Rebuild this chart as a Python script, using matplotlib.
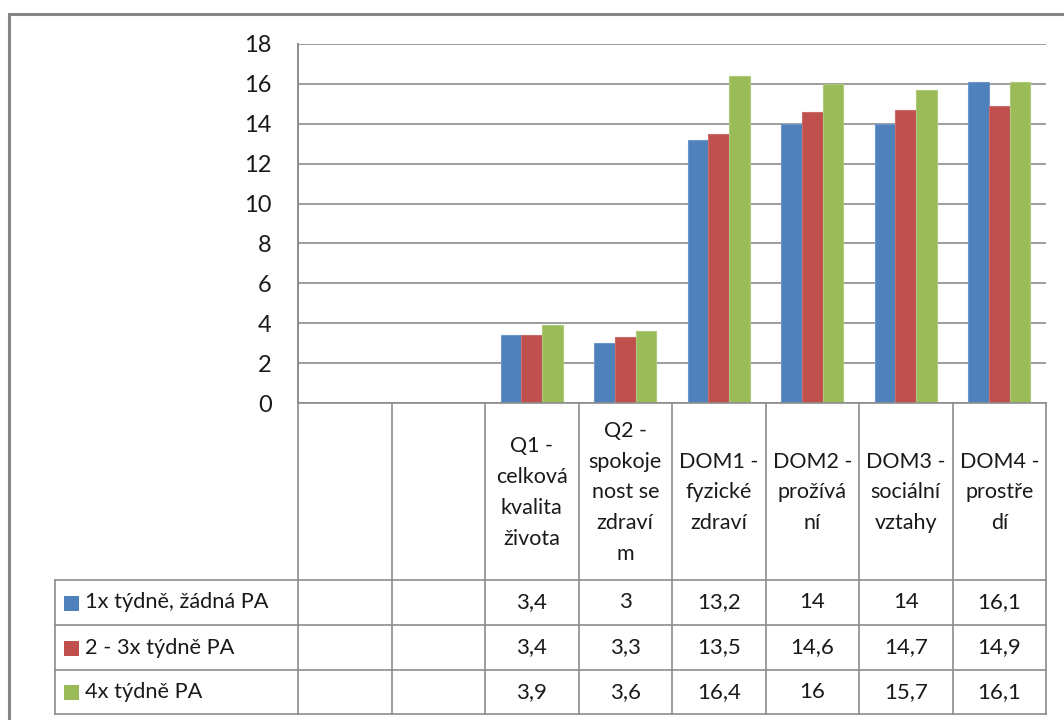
import numpy as np
import matplotlib
matplotlib.use("Agg")
import matplotlib.pyplot as plt
from matplotlib.transforms import Affine2D, blended_transform_factory
from matplotlib.lines import Line2D
from matplotlib.patches import Rectangle

# ---- data ----
categories = ["", "",
              "Q1 -\ncelková\nkvalita\nživota",
              "Q2 -\nspokoje\nnost se\nzdraví\nm",
              "DOM1 -\nfyzické\nzdraví",
              "DOM2 -\nprožívá\nní",
              "DOM3 -\nsociální\nvztahy",
              "DOM4 -\nprostře\ndí"]
series_names = ["1x týdně, žádná PA", "2 - 3x týdně PA", "4x týdně PA"]
s1 = [np.nan, np.nan, 3.4, 3.0, 13.2, 14.0, 14.0, 16.1]
s2 = [np.nan, np.nan, 3.4, 3.3, 13.5, 14.6, 14.7, 14.9]
s3 = [np.nan, np.nan, 3.9, 3.6, 16.4, 16.0, 15.7, 16.1]
y_ticks = [0, 2, 4, 6, 8, 10, 12, 14, 16, 18]

colors = ["#4F81BD", "#C0504D", "#9BBB59"]
edges = ["#6E98CC", "#CC6C69", "#AEC979"]
grid_c = "#8C8C8C"
txt_c = "#1a1a1a"
FONT = "Lato"

W, H = 1064, 720
fig = plt.figure(figsize=(W / 100, H / 100), dpi=100)
fig.patch.set_facecolor("white")

# plot area in pixels
x0, x1 = 298, 1046
y_top, y_base = 44, 403
ax = fig.add_axes([x0 / W, 1 - y_base / H, (x1 - x0) / W, (y_base - y_top) / H])

n = len(categories)
x = np.arange(n)
bw = 1 / 4.5
for k, (vals, c, ec) in enumerate(zip([s1, s2, s3], colors, edges)):
    ax.bar(x + (k - 1) * bw, vals, width=bw, color=c, edgecolor=ec,
           linewidth=0.8, zorder=3)

ax.set_xlim(-0.5, n - 0.5)
ax.set_ylim(0, 18)
ax.set_yticks(y_ticks)
ax.set_yticklabels([str(t) for t in y_ticks], fontfamily=FONT, fontsize=17,
                   color=txt_c)
ax.tick_params(axis="y", length=0, pad=19)
ax.set_xticks([])
for s in ["top", "right", "bottom"]:
    ax.spines[s].set_visible(False)
ax.spines["left"].set_color(grid_c)
ax.spines["left"].set_linewidth(1.2)
ax.yaxis.grid(True, color=grid_c, linewidth=1.2, zorder=0)
ax.set_axisbelow(True)

# pixel transforms (origin top-left)
px = Affine2D().scale(1 / W, -1 / H).translate(0, 1) + fig.transFigure
cat_px = blended_transform_factory(ax.transData, px)


def hline(xa, xb, y, tr):
    fig.add_artist(Line2D([xa, xb], [y, y], transform=tr, color=grid_c,
                          linewidth=1.2, clip_on=False))


def vline(xv, ya, yb, tr):
    fig.add_artist(Line2D([xv, xv], [ya, yb], transform=tr, color=grid_c,
                          linewidth=1.2, clip_on=False))


# data table grid
row_lines = [580, 625, 670, 714]
vline(-0.5, y_top, row_lines[-1], cat_px)
for i in range(1, n + 1):
    vline(i - 0.5, y_base, row_lines[-1], cat_px)
hline(-0.5, n - 0.5, y_base, cat_px)
for y in row_lines:
    hline(55, x0, y, px)
    hline(-0.5, n - 0.5, y, cat_px)
vline(55, row_lines[0], row_lines[-1], px)

# header cells
for i, lab in enumerate(categories):
    if lab:
        fig.text(i, (y_base + row_lines[0]) / 2 + 1, lab, transform=cat_px,
                 ha="center", va="center", fontfamily=FONT, fontsize=15.5,
                 linespacing=1.68, color=txt_c)


def fmt(v):
    s = f"{v:.1f}".replace(".", ",")
    return s[:-2] if s.endswith(",0") else s


# value rows with legend keys
for r, (name, vals, c) in enumerate(zip(series_names, [s1, s2, s3], colors)):
    yc = (row_lines[r] + row_lines[r + 1]) / 2
    fig.add_artist(Rectangle((64, yc - 7), 15, 15, transform=px,
                             facecolor=c, edgecolor="none"))
    fig.text(85, yc, name, transform=px, ha="left", va="center",
             fontfamily=FONT, fontsize=15.7, color=txt_c)
    for i, v in enumerate(vals):
        if not np.isnan(v):
            fig.text(i, yc, fmt(v), transform=cat_px, ha="center",
                     va="center", fontfamily=FONT, fontsize=16,
                     color=txt_c)

# chart frame
fig.add_artist(Line2D([9, W + 5], [14, 14], transform=px, color="#858585",
                      linewidth=2.2, clip_on=False))
fig.add_artist(Line2D([9, 9], [14, H + 5], transform=px, color="#858585",
                      linewidth=2.2, clip_on=False))

fig.savefig("out.png", dpi=100)
